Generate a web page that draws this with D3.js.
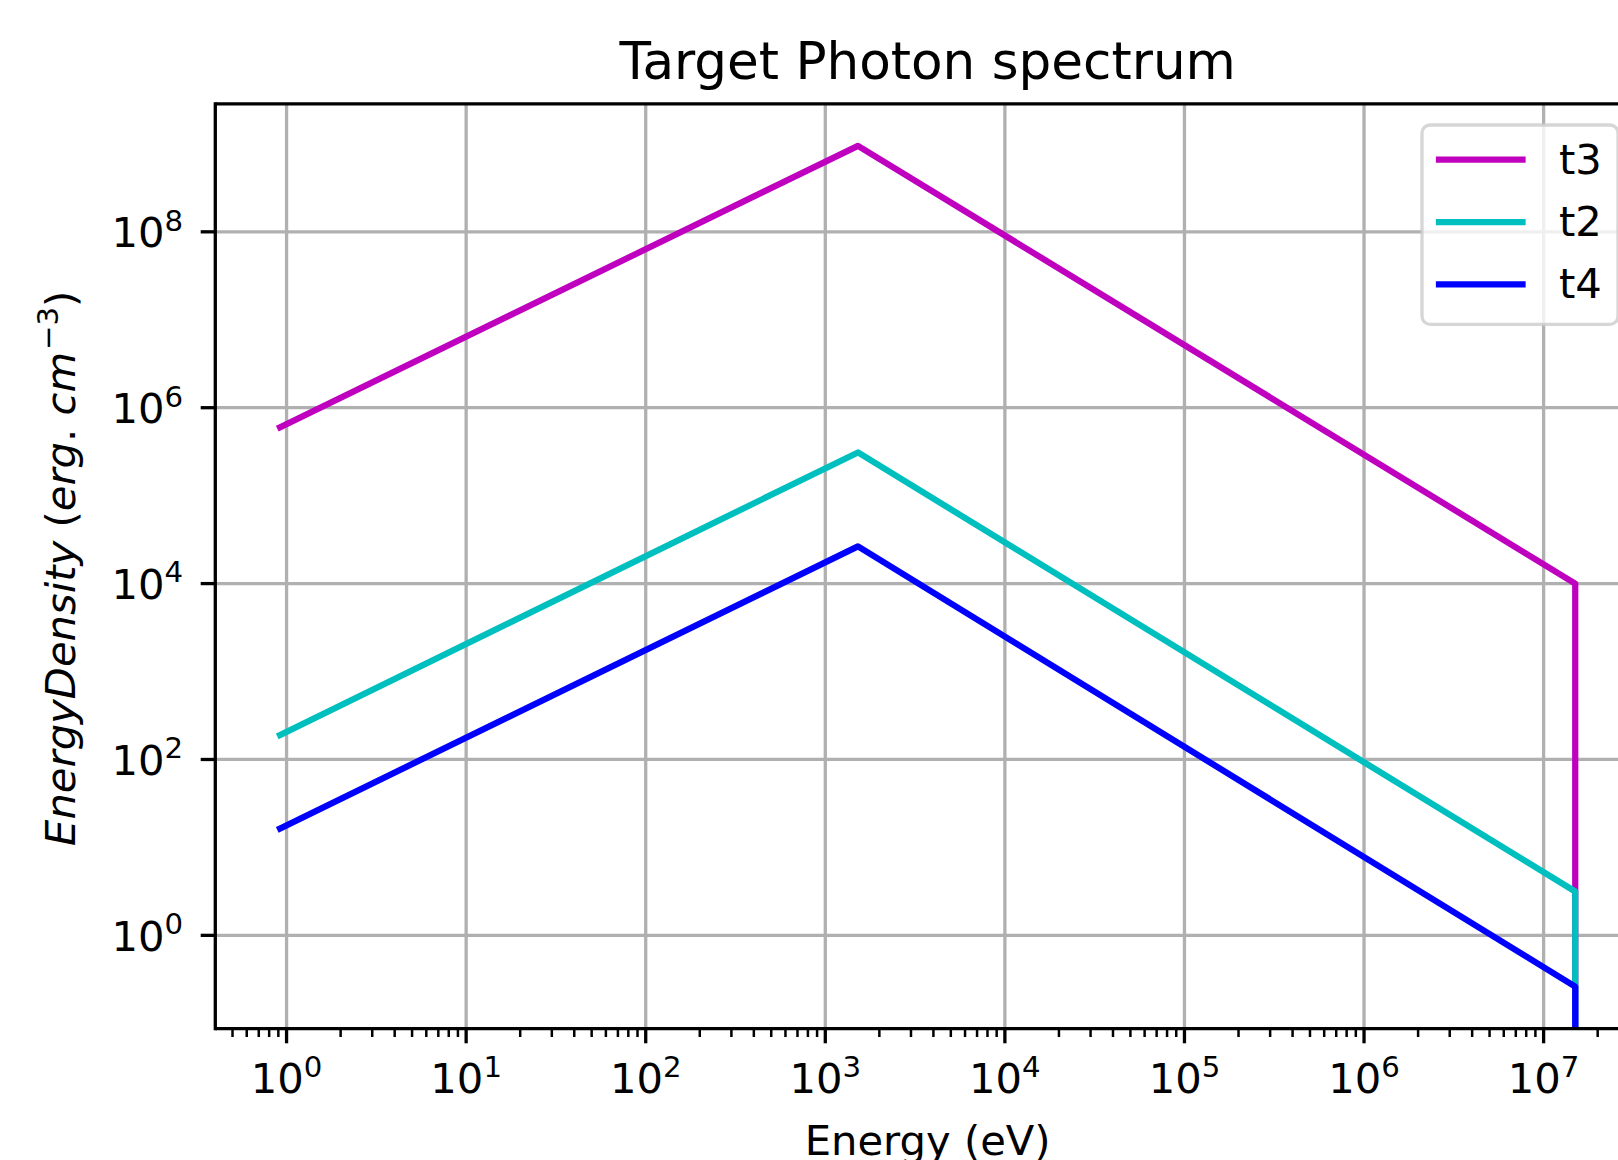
<!DOCTYPE html>
<html>
<head>
<meta charset="utf-8">
<script src="https://cdn.jsdelivr.net/npm/d3@7"></script>
<style>
  html, body { margin: 0; padding: 0; background: #ffffff; }
  svg { display: block; }
  text { font-family: "DejaVu Sans", sans-serif; fill: #000; }
</style>
</head>
<body>
<svg id="chart" width="1618" height="1160"></svg>
<script>
// ---- data ----
const energy = [0.92, 1520, 1.5e7, 1.5e7];
const t3 = [6.0e5, 9.5e8, 1.0e4, 0];
const t2 = [190, 3.1e5, 3.15, 0];
const t4 = [16.4, 2.65e4, 0.261, 0];
const seriesNames = ["t3", "t2", "t4"];
const seriesValues = [t3, t2, t4];
const seriesColors = ["#bf00bf", "#00bfbf", "#0000ff"];
const xTickExps = [0, 1, 2, 3, 4, 5, 6, 7];
const yTickExps = [0, 2, 4, 6, 8];
const titleText = "Target Photon spectrum";
const xLabelText = "Energy (eV)";

// ---- layout ----
const W = 1618, H = 1160;
const L = 215.3, R = 1640, T = 103.8, B = 1028.7;
const fs = 41.7, supFs = 29.2, supRise = 16.6;
const lw = 6.25, gridW = 3.3;

const svg = d3.select("#chart");
svg.append("rect").attr("width", W).attr("height", H).attr("fill", "#fff");

function logPad(vals) {
  const lg = vals.filter(v => v > 0).map(v => Math.log10(v));
  const lo = d3.min(lg), hi = d3.max(lg), m = 0.05 * (hi - lo);
  return [Math.pow(10, lo - m), Math.pow(10, hi + m)];
}
const xDom = logPad(energy);
const yDom = logPad([].concat(...seriesValues));
const x = d3.scaleLog().domain(xDom).range([L, R]);
const y = d3.scaleLog().domain(yDom).range([B, T]);

svg.append("clipPath").attr("id", "clip")
  .append("rect").attr("x", L).attr("y", T).attr("width", R - L).attr("height", B - T);

// grid
const gGrid = svg.append("g").attr("clip-path", "url(#clip)");
xTickExps.forEach(e => {
  const px = x(Math.pow(10, e));
  gGrid.append("line").attr("x1", px).attr("x2", px).attr("y1", T).attr("y2", B)
    .attr("stroke", "#b0b0b0").attr("stroke-width", gridW);
});
yTickExps.forEach(e => {
  const py = y(Math.pow(10, e));
  gGrid.append("line").attr("x1", L).attr("x2", R).attr("y1", py).attr("y2", py)
    .attr("stroke", "#b0b0b0").attr("stroke-width", gridW);
});

// lines
const gLines = svg.append("g").attr("clip-path", "url(#clip)");
const yPos = v => v > 0 ? y(v) : B + 1000;
seriesValues.forEach((vals, i) => {
  const pts = energy.map((e, k) => [x(e), yPos(vals[k])]);
  gLines.append("path").attr("d", d3.line()(pts))
    .attr("fill", "none").attr("stroke", seriesColors[i]).attr("stroke-width", lw)
    .attr("stroke-linejoin", "round").attr("stroke-linecap", "square");
});

// spines (left, top, bottom; right lies off-canvas)
const spineW = 3.3;
svg.append("line").attr("x1", L).attr("x2", L).attr("y1", T - spineW / 2).attr("y2", B + spineW / 2)
  .attr("stroke", "#000").attr("stroke-width", spineW);
svg.append("line").attr("x1", L).attr("x2", R).attr("y1", T).attr("y2", T)
  .attr("stroke", "#000").attr("stroke-width", spineW);
svg.append("line").attr("x1", L).attr("x2", R).attr("y1", B).attr("y2", B)
  .attr("stroke", "#000").attr("stroke-width", spineW);

// x ticks
const majLen = 14.6, minLen = 8.3;
const lo = Math.floor(Math.log10(xDom[0])), hi = Math.ceil(Math.log10(xDom[1]));
for (let e = lo; e <= hi; e++) {
  for (let j = 2; j <= 9; j++) {
    const v = j * Math.pow(10, e);
    if (v < xDom[0] || v > xDom[1]) continue;
    const px = x(v);
    svg.append("line").attr("x1", px).attr("x2", px).attr("y1", B).attr("y2", B + minLen)
      .attr("stroke", "#000").attr("stroke-width", 2.5);
  }
}
xTickExps.forEach(e => {
  const px = x(Math.pow(10, e));
  svg.append("line").attr("x1", px).attr("x2", px).attr("y1", B).attr("y2", B + majLen)
    .attr("stroke", "#000").attr("stroke-width", 3.3);
  const t = svg.append("text").attr("x", px).attr("y", B + 64.6)
    .attr("text-anchor", "middle").attr("font-size", fs);
  t.append("tspan").text("10");
  t.append("tspan").attr("font-size", supFs).attr("dy", -supRise).text(String(e));
});

// y ticks
yTickExps.forEach(e => {
  const py = y(Math.pow(10, e));
  svg.append("line").attr("x1", L - majLen).attr("x2", L).attr("y1", py).attr("y2", py)
    .attr("stroke", "#000").attr("stroke-width", 3.3);
  const t = svg.append("text").attr("x", L - majLen - 14.6 - 3).attr("y", py + 15.4)
    .attr("text-anchor", "end").attr("font-size", fs);
  t.append("tspan").text("10");
  t.append("tspan").attr("font-size", supFs).attr("dy", -supRise).text(String(e));
});

// title & labels
svg.append("text").attr("x", (L + R) / 2).attr("y", 78.5).attr("text-anchor", "middle")
  .attr("font-size", 51.6).text(titleText);
svg.append("text").attr("x", (L + R) / 2).attr("y", 1155).attr("text-anchor", "middle")
  .attr("font-size", fs).text(xLabelText);

const yl = svg.append("text").attr("transform", `translate(75,${(T + B) / 2 + 2}) rotate(-90)`)
  .attr("text-anchor", "middle").attr("font-size", fs);
yl.append("tspan").attr("font-style", "italic").text("EnergyDensity");
yl.append("tspan").text("\u00a0(");
yl.append("tspan").attr("font-style", "italic").text("erg");
yl.append("tspan").text(".\u00a0");
yl.append("tspan").attr("font-style", "italic").text("cm");
yl.append("tspan").attr("font-size", supFs).attr("dy", -supRise).attr("dx", 2).text("\u22123");
yl.append("tspan").attr("dy", supRise).text(")");

// legend
const lgL = 1422, lgT = 125, lgW = 196, lgH = 199.3;
svg.append("rect").attr("x", lgL).attr("y", lgT).attr("width", lgW).attr("height", lgH)
  .attr("rx", 8).attr("ry", 8)
  .attr("fill", "#fff").attr("fill-opacity", 0.8)
  .attr("stroke", "#cccccc").attr("stroke-opacity", 0.8).attr("stroke-width", 3.3);
seriesNames.forEach((n, i) => {
  const cy = 159.7 + i * 62.3;
  svg.append("line").attr("x1", 1439).attr("x2", 1522.5).attr("y1", cy).attr("y2", cy)
    .attr("stroke", seriesColors[i]).attr("stroke-width", lw).attr("stroke-linecap", "square");
  svg.append("text").attr("x", 1559).attr("y", cy + 13.8).attr("font-size", fs).text(n);
});
</script>
</body>
</html>
